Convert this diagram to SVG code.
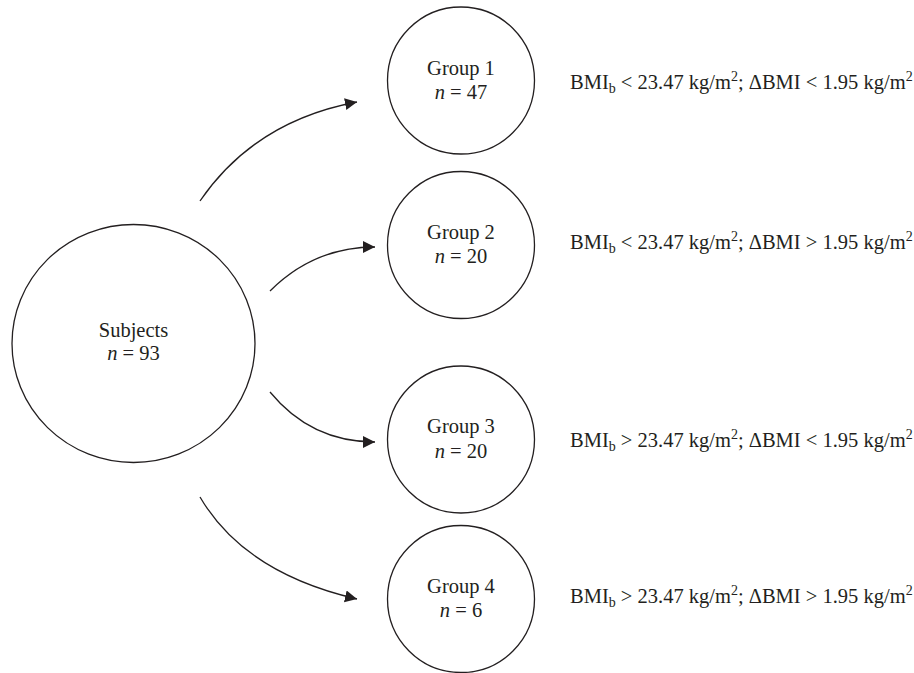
<svg xmlns="http://www.w3.org/2000/svg" width="914" height="673" viewBox="0 0 914 673">
<style>
.node{fill:#fff;stroke:#231f20;stroke-width:1.3}
.lbl{font-family:"Liberation Serif","Times New Roman",serif;font-size:20.5px;fill:#231f20;text-anchor:middle}
.cond{font-family:"Liberation Serif","Times New Roman",serif;font-size:20.5px;fill:#231f20}
.it{font-style:italic}
.edge{fill:none;stroke:#231f20;stroke-width:1.3;marker-end:url(#ah)}
</style>
<defs>
<marker id="ah" markerUnits="userSpaceOnUse" markerWidth="13" markerHeight="13" refX="12" refY="6" orient="auto">
<path d="M0,0 L12,6 L0,12 z" fill="#231f20"/>
</marker>
</defs>
<rect width="914" height="673" fill="#fff"/>
<g id="connectors">
<path class="edge" d="M200,201 Q254.8,121 357,102"/>
<path class="edge" d="M270,291 Q314,247 375,247"/>
<path class="edge" d="M270,392 Q311,442 375,442"/>
<path class="edge" d="M200,497 Q244.5,573 357,599"/>
</g>
<g id="subjects">
<ellipse class="node" cx="133.5" cy="343.5" rx="121.5" ry="119"/>
<text class="lbl" x="133.5" y="337">Subjects</text>
<text class="lbl" x="133.5" y="360"><tspan class="it">n</tspan> = 93</text>
</g>
<g id="group1">
<circle class="node" cx="461" cy="80.5" r="73.5"/>
<text class="lbl" x="461" y="74.5">Group 1</text>
<text class="lbl" x="461" y="98.5"><tspan class="it">n</tspan> = 47</text>
</g>
<g id="group2">
<circle class="node" cx="461" cy="245" r="73.5"/>
<text class="lbl" x="461" y="239">Group 2</text>
<text class="lbl" x="461" y="263"><tspan class="it">n</tspan> = 20</text>
</g>
<g id="group3">
<circle class="node" cx="461" cy="439.5" r="73.5"/>
<text class="lbl" x="461" y="433">Group 3</text>
<text class="lbl" x="461" y="457.5"><tspan class="it">n</tspan> = 20</text>
</g>
<g id="group4">
<circle class="node" cx="461" cy="599" r="73.5"/>
<text class="lbl" x="461" y="592.5">Group 4</text>
<text class="lbl" x="461" y="616.5"><tspan class="it">n</tspan> = 6</text>
</g>
<g id="conditions">
<text class="cond" x="570" y="89">BMI<tspan dy="4" font-size="14">b</tspan><tspan dy="-4"> &lt; 23.47 kg/m</tspan><tspan dy="-8" font-size="14">2</tspan><tspan dy="8">; ΔBMI &lt; 1.95 kg/m</tspan><tspan dy="-8" font-size="14">2</tspan></text>
<text class="cond" x="570" y="249">BMI<tspan dy="4" font-size="14">b</tspan><tspan dy="-4"> &lt; 23.47 kg/m</tspan><tspan dy="-8" font-size="14">2</tspan><tspan dy="8">; ΔBMI &gt; 1.95 kg/m</tspan><tspan dy="-8" font-size="14">2</tspan></text>
<text class="cond" x="570" y="447">BMI<tspan dy="4" font-size="14">b</tspan><tspan dy="-4"> &gt; 23.47 kg/m</tspan><tspan dy="-8" font-size="14">2</tspan><tspan dy="8">; ΔBMI &lt; 1.95 kg/m</tspan><tspan dy="-8" font-size="14">2</tspan></text>
<text class="cond" x="570" y="603">BMI<tspan dy="4" font-size="14">b</tspan><tspan dy="-4"> &gt; 23.47 kg/m</tspan><tspan dy="-8" font-size="14">2</tspan><tspan dy="8">; ΔBMI &gt; 1.95 kg/m</tspan><tspan dy="-8" font-size="14">2</tspan></text>
</g>
</svg>
